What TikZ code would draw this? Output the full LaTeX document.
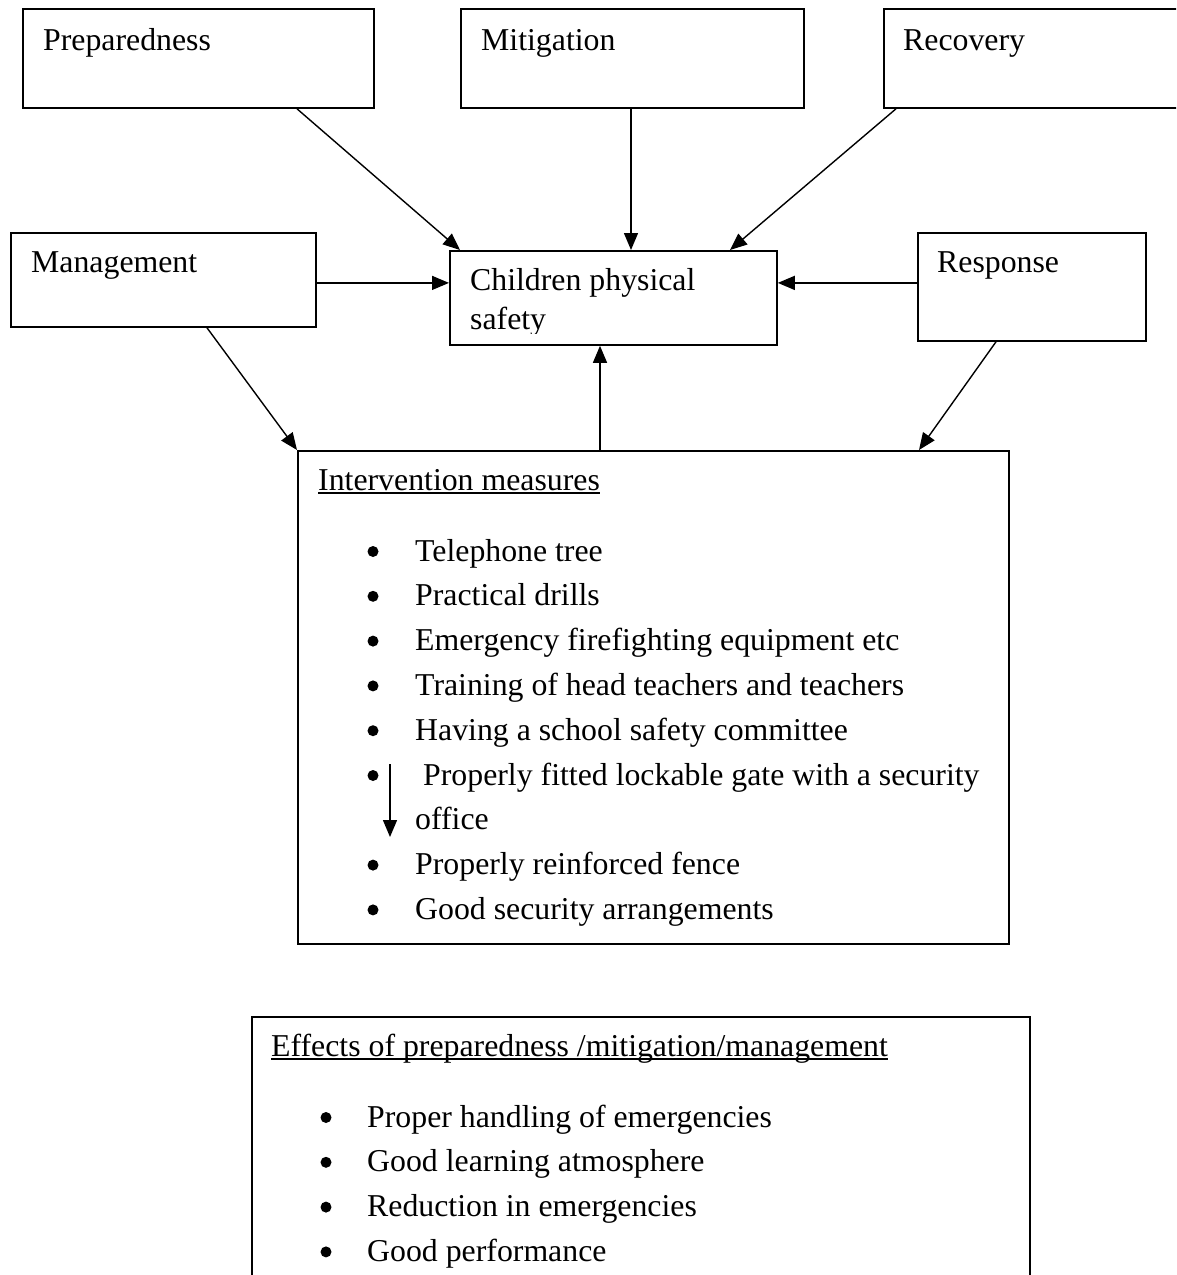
\documentclass[tikz,border=0pt]{standalone}
\usepackage{fontspec}
\setmainfont{Liberation Serif}
\usetikzlibrary{arrows.meta,calc}
\begin{document}
\begin{tikzpicture}[x=1pt,y=-1pt,
  box/.style={draw, line width=1.8pt, inner sep=0pt, anchor=north west},
  lbl/.style={anchor=base west, inner sep=0pt, font=\fontsize{31.8}{38}\selectfont},
  arr/.style={line width=1.4pt, -{Triangle[length=17pt,width=14pt]}},
  uline/.style={line width=1.8pt},
  dot/.style={circle, fill=black, inner sep=0pt, minimum size=11pt}
  ]
\useasboundingbox (0,0) rectangle (1176,1275);
\clip (0,0) rectangle (1176,1275);
\fill[white] (0,0) rectangle (1176,1275);

% boxes
\node[box, minimum width=351pt, minimum height=99pt] (prep) at (22,8) {};
\node[box, minimum width=343pt, minimum height=99pt] (miti) at (460,8) {};
\node[box, minimum width=330pt, minimum height=99pt] (reco) at (883,8) {};
\node[box, minimum width=305pt, minimum height=94pt] (mgmt) at (10,232) {};
\node[box, minimum width=327pt, minimum height=94pt] (child) at (449,250) {};
\node[box, minimum width=228pt, minimum height=108pt] (resp) at (917,232) {};
\node[box, minimum width=711pt, minimum height=493pt] (inter) at (297,450) {};
\node[box, minimum width=778pt, minimum height=300pt] (effe) at (251,1016) {};

% labels
\node[lbl] (tprep) at (43,50) {Preparedness};
\node[lbl] (tmiti) at (481,50) {Mitigation};
\node[lbl] (treco) at (903,50) {Recovery};
\node[lbl] (tmgmt) at (31,272) {Management};
\node[lbl] (tresp) at (937,272) {Response};
\begin{scope}
  \clip (449,250) rectangle (776,333);
  \node[lbl] (tchild1) at (470,290) {Children physical};
  \node[lbl] (tchild2) at (470,329) {safety};
\end{scope}

% intervention measures
\node[lbl] (tinter) at (318,490) {Intervention measures};
\draw[uline] ([yshift=-3pt]tinter.base west) -- ([yshift=-3pt]tinter.base east);
\foreach \t [count=\i from 0] in {Telephone tree, Practical drills,
    Emergency firefighting equipment etc, Training of head teachers and teachers,
    Having a school safety committee} {
  \node[dot] (ib\i) at (373,{561+44.8*\i-9.5}) {};
  \node[lbl] (it\i) at (415,{561+44.8*\i}) {\t};
}
\node[dot] (ib5) at (373,{561+44.8*5-9.5}) {};
\node[lbl] (it5) at (423,{561+44.8*5}) {Properly fitted lockable gate with a security};
\node[lbl] (it5b) at (415,{561+44.8*6}) {office};
\node[dot] (ib7) at (373,{561+44.8*7-9.5}) {};
\node[lbl] (it7) at (415,{561+44.8*7}) {Properly reinforced fence};
\node[dot] (ib8) at (373,{561+44.8*8-9.5}) {};
\node[lbl] (it8) at (415,{561+44.8*8}) {Good security arrangements};

% effects
\node[lbl] (teff) at (271,1056) {Effects of preparedness /mitigation/management};
\draw[uline] ([yshift=-3pt]teff.base west) -- ([yshift=-3pt]teff.base east);
\foreach \t [count=\i from 0] in {Proper handling of emergencies, Good learning atmosphere,
    Reduction in emergencies, Good performance} {
  \node[dot] (eb\i) at (326,{1127+44.8*\i-9.5}) {};
  \node[lbl] (et\i) at (367,{1127+44.8*\i}) {\t};
}

% connectors
\draw[arr] ([xshift=275pt]prep.south west) -- ([xshift=11pt]child.north west);
\draw[arr] ([xshift=171pt]miti.south west) -- ([xshift=182pt]child.north west);
\draw[arr] ([xshift=13pt]reco.south west) -- ([xshift=281pt]child.north west);
\draw[arr] ([yshift=-3pt]mgmt.east) -- ([yshift=-3pt]mgmt.east -| child.west);
\draw[arr] ([yshift=4pt]resp.west) -- ([yshift=4pt]resp.west -| child.east);
\draw[arr] ([xshift=197pt]mgmt.south west) -- (inter.north west);
\draw[arr] ([xshift=79pt]resp.south west) -- ([xshift=622pt]inter.north west);
\coordinate (iup) at ([xshift=303pt]inter.north west);
\draw[arr] (iup) -- (iup |- child.south);
\coordinate (sa1) at (390,764);
\coordinate (sa2) at (390,837);
\draw[arr] (sa1) -- (sa2);
\end{tikzpicture}
\end{document}
